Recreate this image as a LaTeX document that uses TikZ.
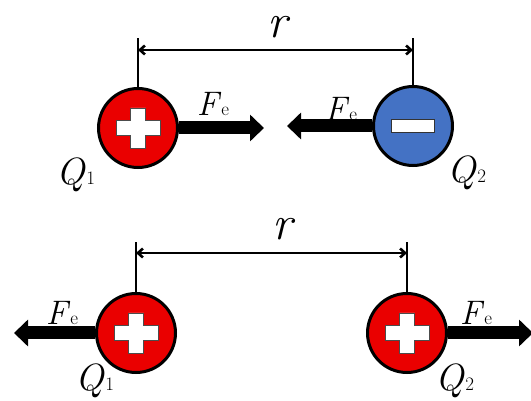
\documentclass[tikz,border=0pt]{standalone}
\usepackage{fontspec}
\usetikzlibrary{arrows.meta}
\definecolor{chargered}{RGB}{234,0,0}
\definecolor{chargeblue}{RGB}{68,114,196}
\newcommand{\qlab}[1]{{\fontsize{38}{40}\selectfont\itshape Q\/}{\fontsize{19}{20}\selectfont #1}}
\newcommand{\felab}{{\fontsize{34}{36}\selectfont\itshape F\/}{\fontsize{19}{20}\selectfont e}}
\begin{document}
\begin{tikzpicture}[x=1pt,y=-1pt,
  charge/.style={circle,draw=black,line width=3pt,minimum size=79pt,inner sep=0pt},
  poscharge/.style={charge,fill=chargered},
  negcharge/.style={charge,fill=chargeblue},
  force/.style={line width=13pt,-{Triangle[length=14pt,width=26pt]}},
  dimline/.style={line width=2.6pt,{Straight Barb[length=5pt,width=9pt]}-{Straight Barb[length=5pt,width=9pt]}},
  tickline/.style={line width=2.6pt},
  lbl/.style={inner sep=0pt},
  plussign/.pic={\draw[fill=white,draw=black!70,line width=0.6pt]
     (-7.5,-20) -- (7.5,-20) -- (7.5,-7.5) -- (22,-7.5) -- (22,7.5) -- (7.5,7.5) -- (7.5,20)
     -- (-7.5,20) -- (-7.5,7.5) -- (-22,7.5) -- (-22,-7.5) -- (-7.5,-7.5) -- cycle;},
  minussign/.pic={\draw[fill=white,draw=black!80,line width=0.8pt] (-21.5,-6.5) rectangle (21.5,6.5);}
]
\useasboundingbox (0,0) rectangle (531,401);

% ---------- top: attraction ----------
\node[poscharge] (A1) at (138,128) {};
\node[negcharge] (A2) at (413,126) {};
\pic at (A1.center) {plussign};
\pic at (A2.center) {minussign};

\coordinate (A1t) at (138,38);
\coordinate (A2t) at (413,38);
\coordinate (A1d) at (138,50);
\coordinate (A2d) at (413,50);
\draw[tickline] (A1.north) -- (A1t);
\draw[tickline] (A2.north) -- (A2t);
\draw[dimline] (A1d) -- (A2d);
\node[lbl] (Ar) at (277,27) {\fontsize{48}{50}\selectfont\itshape r};

\coordinate (A1f) at (264,128);
\coordinate (A2f) at (287,126);
\draw[force] (A1.east) -- (A1f);
\draw[force] (A2.west) -- (A2f);
\node[lbl] (AF1) at (213,104) {\felab};
\node[lbl] (AF2) at (341,109) {\felab};
\node[lbl] (AQ1) at (76,175) {\qlab{1}};
\node[lbl] (AQ2) at (467,173) {\qlab{2}};

% ---------- bottom: repulsion ----------
\node[poscharge] (B1) at (136,333) {};
\node[poscharge] (B2) at (407,333) {};
\pic at (B1.center) {plussign};
\pic at (B2.center) {plussign};

\coordinate (B1t) at (136,242);
\coordinate (B2t) at (407,242);
\coordinate (B1d) at (136,253);
\coordinate (B2d) at (407,253);
\draw[tickline] (B1.north) -- (B1t);
\draw[tickline] (B2.north) -- (B2t);
\draw[dimline] (B1d) -- (B2d);
\node[lbl] (Br) at (282,229) {\fontsize{48}{50}\selectfont\itshape r};

\coordinate (B1f) at (14,333);
\coordinate (B2f) at (533,333);
\draw[force] (B1.west) -- (B1f);
\draw[force] (B2.east) -- (B2f);
\node[lbl] (BF1) at (62,313) {\felab};
\node[lbl] (BF2) at (476,313) {\felab};
\node[lbl] (BQ1) at (95,381) {\qlab{1}};
\node[lbl] (BQ2) at (455,381) {\qlab{2}};
\end{tikzpicture}
\end{document}
